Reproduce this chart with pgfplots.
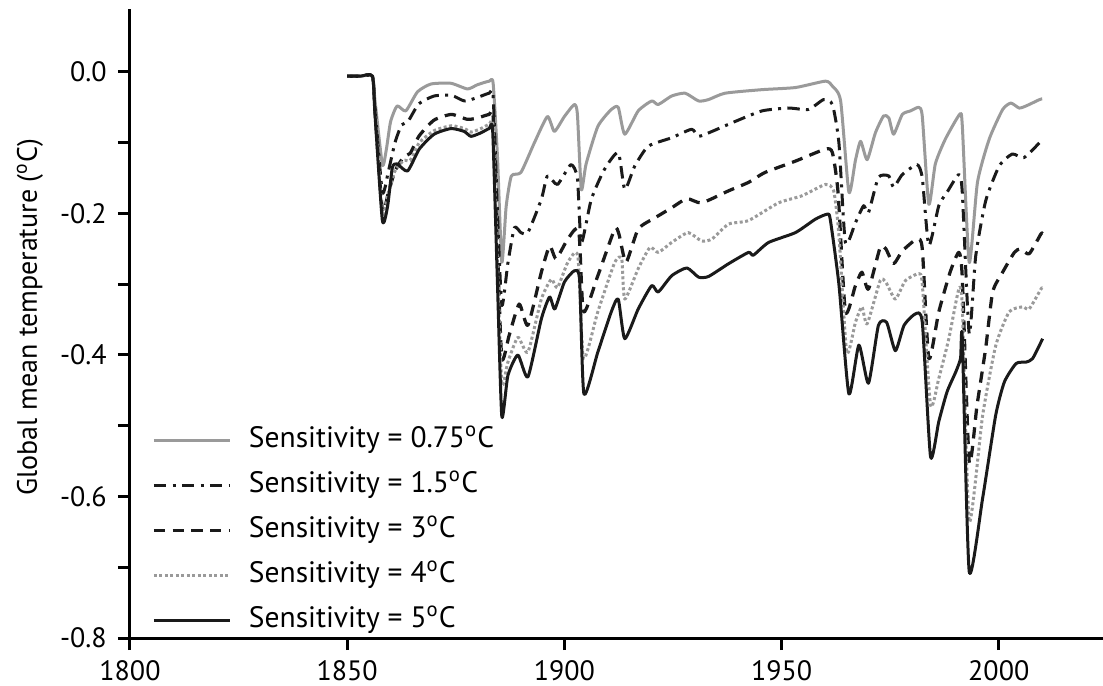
\documentclass[border=0pt]{standalone}
\usepackage{pgfplots}
\pgfplotsset{compat=1.18}
\usepackage{pgfplotstable}
\usepackage{fontspec}
\setmainfont{PT Sans}

\pgfplotstableread{
x y
1850 -0.006
1853 -0.006
1855.8 -0.006
1856.4 -0.04
1858.1 -0.131
1859 -0.11
1860 -0.07
1861.5 -0.048
1863.5 -0.055
1866.2 -0.028
1869.3 -0.017
1873.9 -0.016
1877.7 -0.024
1880 -0.018
1882.7 -0.013
1883.6 -0.016
1884.6 -0.12
1885.6 -0.269
1886.6 -0.19
1887.8 -0.147
1890 -0.142
1893.1 -0.100
1896.1 -0.063
1897.7 -0.084
1900 -0.063
1902.3 -0.046
1903.0 -0.06
1903.9 -0.166
1905 -0.13
1907.7 -0.077
1910.8 -0.053
1912.4 -0.050
1913.9 -0.088
1917 -0.055
1920.1 -0.041
1921.6 -0.046
1924.7 -0.034
1927.8 -0.030
1930.9 -0.041
1933.2 -0.039
1937 -0.030
1945.5 -0.025
1953.2 -0.022
1960.1 -0.013
1961.7 -0.020
1963.6 -0.041
1965.5 -0.170
1967 -0.125
1968.2 -0.098
1969.7 -0.124
1971.6 -0.086
1973.5 -0.062
1974.7 -0.065
1975.8 -0.088
1977.8 -0.060
1979.7 -0.055
1981.6 -0.050
1982.4 -0.063
1983.9 -0.187
1985.4 -0.130
1987.7 -0.095
1991.0 -0.060
1991.6 -0.075
1993.2 -0.269
1995.1 -0.156
1997.8 -0.095
2000.9 -0.053
2002.8 -0.044
2004.7 -0.051
2006.3 -0.048
2009.4 -0.039
2010 -0.038
}\sA

\pgfplotstableread{
x y
1850 -0.006
1853 -0.006
1855.8 -0.006
1856.4 -0.05
1858.1 -0.17
1859.5 -0.14
1861 -0.1
1862.5 -0.075
1864 -0.07
1866.5 -0.045
1870 -0.034
1874 -0.033
1877 -0.041
1880 -0.036
1882.7 -0.030
1883.6 -0.034
1884.6 -0.2
1885.6 -0.33
1887 -0.27
1888.5 -0.22
1890 -0.227
1891.6 -0.227
1894.7 -0.180
1896.1 -0.147
1898.4 -0.159
1901.5 -0.131
1903 -0.15
1903.9 -0.241
1906.2 -0.180
1909.2 -0.138
1912.4 -0.114
1913.9 -0.166
1916.2 -0.133
1919.3 -0.105
1924.7 -0.093
1929.3 -0.081
1930.9 -0.091
1934 -0.084
1939.3 -0.070
1945.5 -0.055
1951.6 -0.051
1956.2 -0.053
1959.7 -0.039
1961.7 -0.046
1963.2 -0.100
1964.7 -0.241
1967 -0.213
1968.9 -0.189
1970 -0.199
1972.3 -0.149
1974.7 -0.147
1975.8 -0.163
1977.8 -0.145
1981.2 -0.131
1982.4 -0.15
1983.9 -0.245
1986.2 -0.189
1988.1 -0.170
1990.8 -0.145
1991.6 -0.17
1993.2 -0.37
1994.7 -0.26
1997 -0.182
2000.1 -0.133
2003.1 -0.116
2005.8 -0.121
2009.4 -0.100
2010 -0.097
}\sB

\pgfplotstableread{
x y
1850 -0.006
1853 -0.006
1855.8 -0.006
1856.4 -0.055
1858.1 -0.195
1859.5 -0.17
1861 -0.14
1863 -0.12
1864.5 -0.115
1866.6 -0.09
1870 -0.068
1874 -0.060
1877.7 -0.067
1880 -0.065
1882.7 -0.060
1883.6 -0.063
1884.6 -0.25
1885.6 -0.405
1887.3 -0.372
1889.6 -0.328
1891.6 -0.358
1894.7 -0.283
1896.6 -0.246
1898.1 -0.264
1900.8 -0.236
1903.3 -0.224
1904.4 -0.339
1907.7 -0.288
1911.6 -0.222
1912.6 -0.23
1914.2 -0.269
1917 -0.222
1920.9 -0.206
1924.7 -0.192
1928.2 -0.179
1931.6 -0.185
1937.8 -0.168
1942.4 -0.156
1946.2 -0.142
1953.2 -0.126
1960.1 -0.109
1961.7 -0.114
1963 -0.17
1964.7 -0.339
1967 -0.302
1968.5 -0.283
1970 -0.307
1972.7 -0.248
1974 -0.25
1975.8 -0.271
1977.8 -0.253
1981.2 -0.236
1982.4 -0.25
1983.9 -0.405
1986.2 -0.339
1988.8 -0.283
1990.8 -0.255
1991.6 -0.29
1993.2 -0.551
1995 -0.471
1997 -0.39
1998.6 -0.311
2000.9 -0.283
2003.6 -0.255
2005 -0.25
2007 -0.257
2009.7 -0.229
2010 -0.228
}\sC

\pgfplotstableread{
x y
1850 -0.006
1853 -0.006
1855.8 -0.006
1856.4 -0.055
1858.1 -0.20
1859.5 -0.17
1861 -0.14
1863 -0.125
1864.5 -0.125
1866.6 -0.10
1870 -0.083
1874 -0.076
1877 -0.08
1878.5 -0.085
1880.8 -0.08
1882.7 -0.074
1883.6 -0.078
1884.6 -0.27
1885.6 -0.44
1887 -0.41
1889.3 -0.375
1891.6 -0.396
1894.7 -0.321
1897 -0.293
1898.4 -0.305
1900.8 -0.269
1903.1 -0.260
1904.4 -0.405
1907.7 -0.339
1911.6 -0.269
1913.2 -0.264
1913.9 -0.321
1917 -0.278
1919.7 -0.248
1921.6 -0.255
1924.7 -0.241
1928.5 -0.227
1931.6 -0.239
1934 -0.236
1937.8 -0.215
1942.4 -0.210
1949.3 -0.185
1954.7 -0.175
1960.1 -0.159
1962 -0.168
1963.2 -0.23
1965 -0.396
1967 -0.354
1968.5 -0.332
1969.7 -0.356
1972.7 -0.295
1974 -0.297
1976.2 -0.321
1978.5 -0.295
1981.6 -0.285
1982.4 -0.30
1984.3 -0.471
1986.2 -0.433
1988.5 -0.377
1990.8 -0.307
1991.6 -0.33
1993.2 -0.635
1996.3 -0.485
1999.3 -0.387
2002.4 -0.339
2005.5 -0.332
2007 -0.335
2009.7 -0.307
2010 -0.305
}\sD

\pgfplotstableread{
x y
1850 -0.006
1853 -0.006
1855.8 -0.006
1856.4 -0.06
1858.1 -0.21
1859.3 -0.19
1860.4 -0.135
1861.5 -0.13
1863.9 -0.14
1866.6 -0.109
1870 -0.088
1873.9 -0.080
1876.9 -0.084
1878.5 -0.091
1880.8 -0.086
1882.7 -0.080
1883.5 -0.084
1884.6 -0.30
1885.6 -0.487
1887 -0.429
1889.3 -0.400
1891.6 -0.431
1894.7 -0.349
1896.6 -0.318
1897.8 -0.335
1900 -0.297
1902.3 -0.281
1903.5 -0.293
1904.5 -0.455
1907.7 -0.396
1910.8 -0.339
1912.4 -0.321
1913.9 -0.377
1917 -0.335
1920.1 -0.302
1921.6 -0.311
1924.7 -0.288
1928.2 -0.277
1930.9 -0.290
1933.2 -0.289
1937.8 -0.271
1942.4 -0.255
1943.5 -0.259
1947 -0.241
1953.2 -0.227
1957.8 -0.208
1960.5 -0.201
1961.2 -0.208
1963.2 -0.30
1965.5 -0.455
1967.8 -0.386
1970 -0.440
1972.3 -0.358
1974.2 -0.354
1976.2 -0.394
1978.2 -0.358
1980.8 -0.342
1982.4 -0.354
1984.3 -0.544
1986.2 -0.494
1988.1 -0.452
1990.1 -0.424
1991.2 -0.405
1991.6 -0.375
1993.2 -0.706
1996.3 -0.602
1999.3 -0.485
2001.3 -0.438
2004 -0.412
2006.3 -0.410
2007.8 -0.405
2010.1 -0.377
}\sE

\definecolor{lgray}{HTML}{9A9A9A}
\definecolor{dblack}{HTML}{1A1A1A}

\begin{document}
\begin{tikzpicture}[font=\fontsize{11.2}{13}\selectfont]
\begin{axis}[
  at={(0,0)}, anchor=south west,
  scale only axis,
  width=389.2pt, height=251.6pt,
  xmin=1800, xmax=2024,
  ymin=-0.8, ymax=0.089,
  axis x line*=bottom, axis y line*=left,
  axis line style={line width=1.2pt, black},
  xtick={1800,1850,1900,1950,2000},
  xticklabels={1800,1850,1900,1950,2000},
  ytick={-0.8,-0.6,-0.4,-0.2,0},
  yticklabels={-0.8,-0.6,-0.4,-0.2,0.0},
  minor ytick={-0.7,-0.5,-0.3,-0.1},
  tick align=outside,
  major tick length=4.8pt, minor tick length=4.8pt,
  every tick/.style={line width=1.2pt, black},
  xticklabel style={yshift=-0.5pt},
  yticklabel style={xshift=-1pt},
  ylabel={Global mean temperature (\textsuperscript{o}C)},
  ylabel style={at={(axis description cs:-0.1028,0.51)}, anchor=center},
  clip=false,
  legend cell align=left,
  legend style={draw=none, fill=none, at={(axis cs:1805,-0.795)}, anchor=south west,
    row sep=7.5pt, inner sep=0pt, font=\fontsize{11.8}{13}\selectfont,
    nodes={inner sep=0pt, text height=8pt, text depth=2.5pt},
    /tikz/every odd column/.append style={column sep=7pt}},
  legend image code/.code={\draw[#1] (0pt,0pt) -- (30.4pt,0pt);},
  line join=round,
]
\addplot[lgray, line width=1.2pt, smooth, tension=0.35] table {\sA};
\addlegendentry{Sensitivity = 0.75\textsuperscript{o}C}
\addplot[dblack, line width=1.2pt, smooth, tension=0.35, dash pattern=on 5pt off 2.5pt on 1.2pt off 2.5pt] table {\sB};
\addlegendentry{Sensitivity = 1.5\textsuperscript{o}C}
\addplot[dblack, line width=1.3pt, smooth, tension=0.35, dash pattern=on 4.5pt off 3pt] table {\sC};
\addlegendentry{Sensitivity = 3\textsuperscript{o}C}
\addplot[lgray, line width=1.2pt, smooth, tension=0.35, dash pattern=on 1.2pt off 1pt] table {\sD};
\addlegendentry{Sensitivity = 4\textsuperscript{o}C}
\addplot[dblack, line width=1.2pt, smooth, tension=0.35] table {\sE};
\addlegendentry{Sensitivity = 5\textsuperscript{o}C}
\end{axis}
\pgfresetboundingbox
\useasboundingbox (-52pt,-18.8pt) rectangle (389.2pt,255.2pt);
\end{tikzpicture}
\end{document}
